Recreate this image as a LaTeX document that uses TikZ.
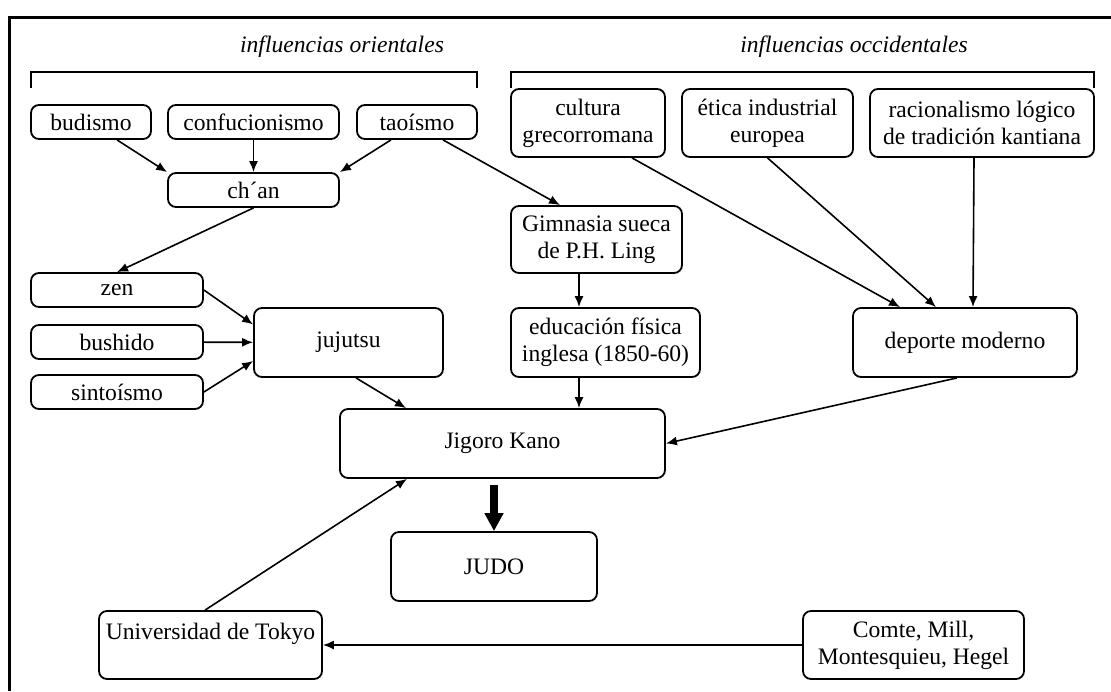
\documentclass[tikz,border=0pt]{standalone}
\usepackage{fontspec}
\setmainfont{Liberation Serif}
\usetikzlibrary{arrows.meta}
\tikzset{every node/.style={align=center}, >= {Latex[length=5.5pt,width=4.5pt]}, font=\fontsize{11.8}{13.5}\selectfont,
  caja/.style={draw, rounded corners=4pt, line width=0.9pt, inner sep=0pt, minimum height=17pt},
  cajados/.style={caja, minimum height=34.5pt},
  flecha/.style={->, line width=0.8pt}}

\begin{document}
\begin{tikzpicture}[x=0.5pt, y=-0.5pt]
            \useasboundingbox (0,0) rectangle (1111,691);
            \draw[line width=1.5pt] (9,691) -- (9,17) -- (1111,17);
            % influencias
            \node (orient) at (342,47) {\textit{influencias orientales}};
            \node (occid) at (854,47) {\textit{influencias occidentales}};
            \draw[line width=1.2pt] (31,88) -- (31,72) -- (477,72) -- (477,88);
            \draw[line width=1.2pt] (511,88) -- (511,72) -- (1094,72) -- (1094,88);
            % orientales
            \node [caja, minimum width=60pt] (budismo) at (91,122) {budismo};
            \node [caja, minimum width=85.5pt] (confucio) at (253.5,122) {confucionismo};
            \node [caja, minimum width=60pt] (taoismo) at (417,122) {taoísmo};
            \node [caja, minimum width=85.5pt] (chan) at (253.5,190) {ch´an};
            \node [caja, minimum width=86pt] (zen) at (117,290) {zen};
            \node [caja, minimum width=86pt] (bushido) at (117,342) {bushido};
            \node [caja, minimum width=86pt] (sinto) at (117,392) {sintoísmo};
            \node [cajados, minimum width=94.5pt] (jujutsu) at (348.5,342.5) {jujutsu};
            % occidentales
            \node [cajados, minimum width=77pt, minimum height=34pt] (cultura) at (588,123) {cultura\\ grecorromana};
            \node [cajados, minimum width=85.5pt, minimum height=34pt] (etica) at (767.5,123) {ética industrial\\ europea};
            \node [cajados, minimum width=112pt, minimum height=34pt] (racional) at (982,123) {racionalismo lógico\\ de tradición kantiana};
            \node [cajados, minimum width=85.5pt, minimum height=33.5pt] (gimnasia) at (596.5,239.5) {Gimnasia sueca\\ de P.H. Ling};
            \node [cajados, minimum width=94.5pt] (educacion) at (605.5,342.5) {educación física\\ inglesa (1850-60)};
            \node [cajados, minimum width=112pt] (deporte) at (965,342.5) {deporte moderno};
            % centro
            \node [cajados, minimum width=162.5pt] (kano) at (502.5,443.5) {Jigoro Kano};
            \node [cajados, minimum width=103pt] (judo) at (494,566.5) {JUDO};
            \node [cajados, minimum width=111.5pt, minimum height=34pt] (tokyo) at (210.5,645) {Universidad de Tokyo\\ \mbox{}};
            \node [cajados, minimum width=110.5pt, minimum height=34pt] (comte) at (913.5,645) {Comte, Mill,\\ Montesquieu, Hegel};
            \path[flecha] ([xshift=13pt]budismo.south) edge (chan.north west)
                (confucio) edge (chan)
                ([xshift=-13pt]taoismo.south) edge (chan.north east)
                ([xshift=13pt]taoismo.south) edge ([xshift=-18.25pt]gimnasia.north)
                (chan.south) edge (zen.north)
                (zen.east) edge ([yshift=9pt]jujutsu.west)
                (bushido) edge (jujutsu)
                (sinto.east) edge ([yshift=-9.25pt]jujutsu.west)
                ([xshift=3.75pt]jujutsu.south) edge ([xshift=-48.25pt]kano.north)
                ([xshift=-8.75pt]gimnasia.south) edge ([xshift=-13.25pt]educacion.north)
                ([xshift=-13.25pt]educacion.south) edge ([xshift=38.25pt]kano.north)
                ([xshift=22pt]cultura.south) edge ([xshift=-32.5pt]deporte.north)
                (etica.south) edge ([xshift=-14.5pt]deporte.north)
                ([xshift=-4pt]racional.south) edge ([xshift=4pt]deporte.north)
                ([xshift=-4pt]deporte.south) edge (kano.east)
                ([xshift=-2.75pt]tokyo.north) edge ([xshift=-47.75pt]kano.south)
                (comte) edge (tokyo);
            \draw[-{Triangle[width=9pt,length=9pt]}, line width=4pt] ([xshift=-4.25pt,yshift=-3pt]kano.south) -- (judo.north);
        \end{tikzpicture}
\end{document}
